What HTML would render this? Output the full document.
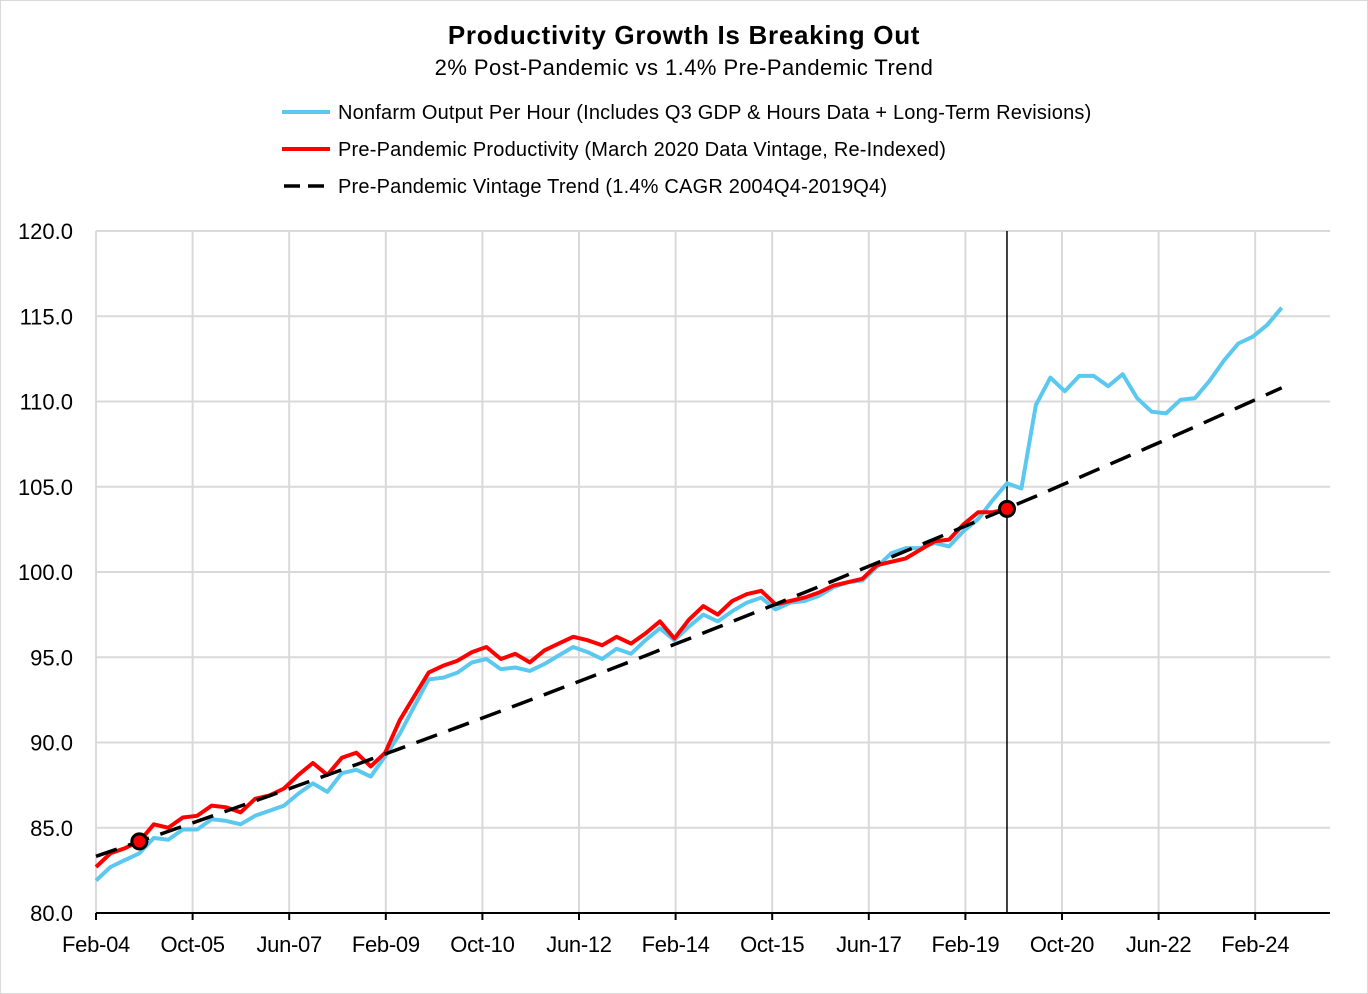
<!DOCTYPE html>
<html><head><meta charset="utf-8"><style>
body{margin:0;background:#fff;}
svg{display:block;font-family:"Liberation Sans",sans-serif;}
</style></head><body>
<svg id="chart" width="1368" height="994" viewBox="0 0 1368 994">
<rect x="0.5" y="0.5" width="1367" height="993" fill="#fff" stroke="#d9d9d9"/>
<text x="684" y="44" text-anchor="middle" font-size="26" font-weight="bold" letter-spacing="0.7">Productivity Growth Is Breaking Out</text>
<text x="684" y="75" text-anchor="middle" font-size="22" letter-spacing="0.45">2% Post-Pandemic vs 1.4% Pre-Pandemic Trend</text>
<g>
<g><line x1="282" y1="112" x2="330" y2="112" stroke="#5bc8f0" stroke-width="4"/><text x="338" y="119" font-size="20" letter-spacing="0.2">Nonfarm Output Per Hour (Includes Q3 GDP &amp; Hours Data + Long-Term Revisions)</text></g>
<g><line x1="282" y1="149" x2="330" y2="149" stroke="#ff0000" stroke-width="4"/><text x="338" y="156" font-size="20" letter-spacing="0.2">Pre-Pandemic Productivity (March 2020 Data Vintage, Re-Indexed)</text></g>
<g><line x1="284" y1="186" x2="330" y2="186" stroke="#000" stroke-width="3.5" stroke-dasharray="16,8"/><text x="338" y="193" font-size="20" letter-spacing="0.2">Pre-Pandemic Vintage Trend (1.4% CAGR 2004Q4-2019Q4)</text></g>
</g>
<g id="grid"></g><g id="axes"></g><g id="marks"></g>
</svg>
<script>
const xLabels=["Feb-04","Oct-05","Jun-07","Feb-09","Oct-10","Jun-12","Feb-14","Oct-15","Jun-17","Feb-19","Oct-20","Jun-22","Feb-24"];
const yTicks=[80,85,90,95,100,105,110,115,120];
const blueValues=[81.9,82.7,83.1,83.5,84.4,84.3,84.9,84.9,85.5,85.4,85.2,85.7,86.0,86.3,87.0,87.6,87.1,88.2,88.4,88.0,89.2,90.5,92.1,93.7,93.8,94.1,94.7,94.9,94.3,94.4,94.2,94.6,95.1,95.6,95.3,94.9,95.5,95.2,96.0,96.7,96.0,96.8,97.5,97.1,97.7,98.2,98.5,97.8,98.2,98.3,98.6,99.1,99.4,99.5,100.3,101.1,101.4,101.4,101.7,101.5,102.4,103.1,104.2,105.2,104.9,109.8,111.4,110.6,111.5,111.5,110.9,111.6,110.2,109.4,109.3,110.1,110.2,111.2,112.4,113.4,113.8,114.5,115.5];
const redValues=[82.7,83.5,83.8,84.2,85.2,85.0,85.6,85.7,86.3,86.2,85.9,86.7,86.9,87.3,88.1,88.8,88.1,89.1,89.4,88.6,89.4,91.3,92.7,94.1,94.5,94.8,95.3,95.6,94.9,95.2,94.7,95.4,95.8,96.2,96.0,95.7,96.2,95.8,96.4,97.1,96.1,97.2,98.0,97.5,98.3,98.7,98.9,98.1,98.3,98.5,98.8,99.2,99.4,99.6,100.4,100.6,100.8,101.3,101.8,101.9,102.8,103.5,103.5,103.7];
const trendStartIndex=[3];
const trendStartValue=[84.2];
const trendCAGR=[1.4];
const markerIndex=[3,63];
const markerValue=[84.2,103.7];
const pandemicIndex=[63];

const NS="http://www.w3.org/2000/svg";
const X0=96,X1=1330,Y0=913,Y1=231;
const xq=i=>X0+i*14.46;
const yv=v=>Y0-(v-80)/40*(Y0-Y1);
function mk(tag,attrs,parent){const e=document.createElementNS(NS,tag);for(const k in attrs)e.setAttribute(k,attrs[k]);parent.appendChild(e);return e;}
const grid=document.getElementById('grid'),axes=document.getElementById('axes'),marks=document.getElementById('marks');
yTicks.forEach(t=>{
  const l=mk('line',{x1:X0,x2:X1,y1:yv(t),y2:yv(t),stroke:'#d9d9d9','stroke-width':2},grid);
  
  
  const tx=mk('text',{x:73,y:yv(t)+8,'text-anchor':'end','font-size':22},axes);
  tx.textContent=t.toFixed(1);
  
  
});
xLabels.forEach((s,k)=>{
  const x=X0+k*96.6;
  const l=mk('line',{x1:x,x2:x,y1:Y1,y2:Y0,stroke:'#d9d9d9','stroke-width':2},grid);
  
  
  const tk=mk('line',{x1:x,x2:x,y1:Y0,y2:Y0+7,stroke:'#000','stroke-width':2},axes);
  
  
  const tx=mk('text',{x:x,y:952,'text-anchor':'middle','font-size':22,'letter-spacing':'-0.3'},axes);
  tx.textContent=s;
  
  
});
const xa=mk('line',{x1:X0,x2:X1,y1:Y0,y2:Y0,stroke:'#000','stroke-width':2},axes);


const vl=mk('line',{x1:xq(pandemicIndex[0]),x2:xq(pandemicIndex[0]),y1:Y1,y2:Y0,stroke:'#000','stroke-width':1.5},marks);


function pts(vals,off){return vals.map((v,i)=>xq(i+off).toFixed(1)+','+yv(v).toFixed(1)).join(' ');}
const blue=mk('polyline',{points:pts(blueValues,0),fill:'none',stroke:'#5bc8f0','stroke-width':4,'stroke-linejoin':'round'},marks);


const red=mk('polyline',{points:pts(redValues,0),fill:'none',stroke:'#ff0000','stroke-width':4,'stroke-linejoin':'round'},marks);


const tp=[];
for(let i=0;i<blueValues.length;i++){tp.push(xq(i).toFixed(1)+','+yv(trendStartValue[0]*Math.pow(1+trendCAGR[0]/100,(i-trendStartIndex[0])/4)).toFixed(1));}
const tr=mk('polyline',{points:tp.join(' '),fill:'none',stroke:'#000','stroke-width':3.5,'stroke-dasharray':'22,12'},marks);


markerIndex.forEach((idx,j)=>{
  const c=mk('circle',{cx:xq(idx),cy:yv(markerValue[j]),r:7.5,fill:'#ff0000',stroke:'#000','stroke-width':3},marks);
  
  
});
</script>
</body></html>
